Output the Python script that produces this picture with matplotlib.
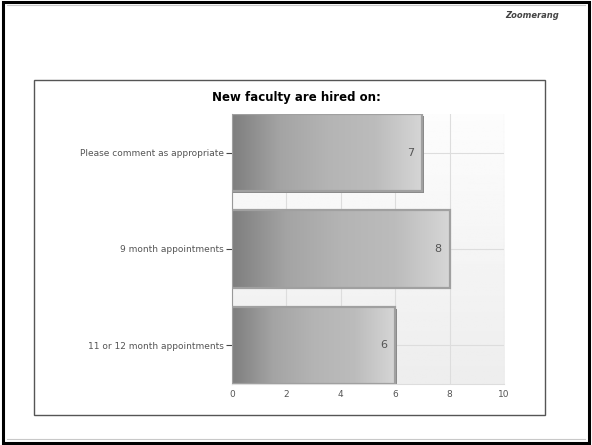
import numpy as np
import matplotlib.pyplot as plt
from matplotlib.patches import Rectangle
from matplotlib.lines import Line2D
from matplotlib.colors import LinearSegmentedColormap

categories = ['11 or 12 month appointments', '9 month appointments', 'Please comment as appropriate']
values = [6, 8, 7]
title = 'New faculty are hired on:'
xticks = [0, 2, 4, 6, 8, 10]

fig = plt.figure(figsize=(5.92, 4.45), dpi=100)

# outer black frame
fig.patches.append(Rectangle((0.005, 0.005), 0.99, 0.99, transform=fig.transFigure,
                             fill=False, edgecolor='black', linewidth=2.2))
fig.lines.append(Line2D([0.012, 0.988], [0.988, 0.988], transform=fig.transFigure,
                        color='#c8c8c8', linewidth=0.8))
fig.lines.append(Line2D([0.012, 0.988], [0.014, 0.014], transform=fig.transFigure,
                        color='#c8c8c8', linewidth=0.8))
# inner chart box
fig.patches.append(Rectangle((0.0574, 0.0674), 0.8632, 0.7526, transform=fig.transFigure,
                             fill=False, edgecolor='#555555', linewidth=1.0))
fig.text(0.945, 0.965, 'Zoomerang', ha='right', va='center', fontsize=6,
         style='italic', fontweight='bold', color='#444444')

ax = fig.add_axes([0.3919, 0.1371, 0.4595, 0.6067])
ax.set_xlim(0, 10)
ax.set_ylim(-0.4, 2.4)

# background gradient
bg = np.linspace(0.93, 0.99, 100).reshape(-1, 1)
ax.imshow(bg, extent=[0, 10, -0.4, 2.4], origin='lower', aspect='auto',
          cmap='gray', vmin=0, vmax=1, zorder=0)
ax.set_xticks(xticks)
ax.grid(True, color='#dddddd', linewidth=0.8, zorder=1)
ax.set_axisbelow(True)

cmap = LinearSegmentedColormap.from_list('bar', ['#7e7e7e', '#a4a4a4', '#b4b4b4', '#bcbcbc', '#d6d6d6'])
grad = np.linspace(0, 1, 256).reshape(1, -1)
h = 0.8
for i, v in enumerate(values):
    y0 = i - h / 2
    shadow = Rectangle((0.05, y0 - 0.02), v, h, facecolor='#888888', edgecolor='none', zorder=2)
    ax.add_patch(shadow)
    im = ax.imshow(grad, extent=[0, v, y0, y0 + h], aspect='auto', cmap=cmap, zorder=3)
    rect = Rectangle((0, y0), v, h, facecolor='none', edgecolor='#a0a0a0', linewidth=1.6, zorder=4)
    ax.add_patch(rect)
    im.set_clip_path(rect)
    ax.text(v - 0.3, i, str(v), ha='right', va='center', fontsize=8, color='#555555', zorder=5)

ax.set_xlim(0, 10)
ax.set_ylim(-0.4, 2.4)
ax.set_yticks(range(len(categories)))
ax.set_yticklabels(categories)
ax.tick_params(axis='y', length=4, width=0.8, color='#444444', labelsize=6.5, labelcolor='#555555', pad=2)
ax.tick_params(axis='x', length=0, labelsize=6.5, labelcolor='#555555', pad=4)
for s in ['top', 'right']:
    ax.spines[s].set_visible(False)
ax.spines['left'].set_color('#999999')
ax.spines['bottom'].set_color('#dddddd')

fig.text(0.5, 0.782, title, ha='center', va='center', fontsize=8.5, fontweight='bold')

fig.savefig('out.png', dpi=100)
